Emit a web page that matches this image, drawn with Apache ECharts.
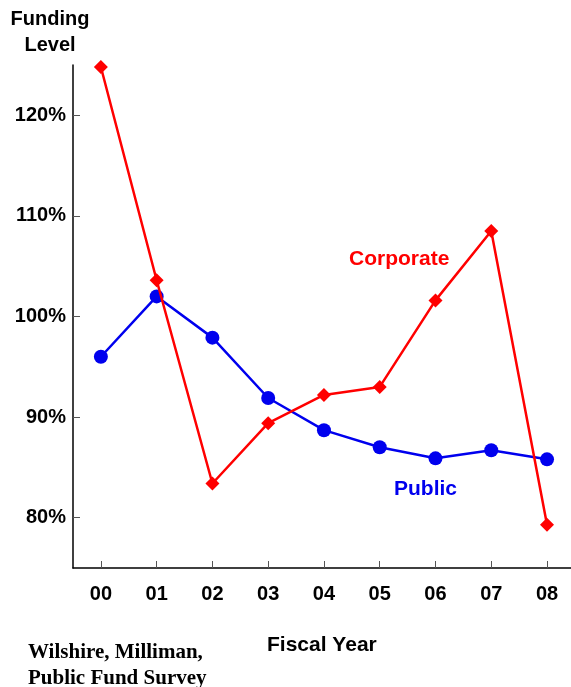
<!DOCTYPE html>
<html>
<head>
<meta charset="utf-8">
<script src="https://cdn.jsdelivr.net/npm/echarts@6/dist/echarts.min.js"></script>
<style>
  html, body { margin: 0; padding: 0; background: #fff; }
  #chart { width: 571px; height: 687px; }
</style>
</head>
<body>
<div id="chart"></div>
<script>
// fiscal years
const years = ['00', '01', '02', '03', '04', '05', '06', '07', '08'];
// funding level, percent
const corporate = [124.8, 103.6, 83.4, 89.4, 92.2, 93.0, 101.6, 108.5, 79.3];
const publicFunds = [96.0, 102.0, 97.9, 91.9, 88.7, 87.0, 85.9, 86.7, 85.8];
const yTicks = [80, 90, 100, 110, 120];

const font = 'Liberation Sans, Arial, sans-serif';

let myChart = echarts.init(document.getElementById('chart'));
myChart.setOption({
  animation: false,
  grid: { left: 73, right: 0, top: 65, bottom: 119 },
  xAxis: {
    type: 'value',
    min: -0.5,
    max: 8.43,
    splitLine: { show: false },
    axisLine: { show: true, onZero: false, lineStyle: { color: '#000', width: 1.5 } },
    axisTick: { show: true, inside: true, length: 7, customValues: years.map((y, i) => i), lineStyle: { color: '#555' } },
    axisLabel: {
      customValues: years.map((y, i) => i),
      formatter: v => years[Math.round(v)],
      color: '#000', fontWeight: 'bold', fontSize: 20, fontFamily: font, margin: 16
    }
  },
  yAxis: {
    type: 'value',
    min: 75,
    max: 125,
    splitLine: { show: false },
    axisLine: { show: true, onZero: false, lineStyle: { color: '#000', width: 1.5 } },
    axisTick: { show: true, inside: true, length: 7, customValues: yTicks, lineStyle: { color: '#555' } },
    axisLabel: {
      customValues: yTicks,
      formatter: '{value}%',
      color: '#000', fontWeight: 'bold', fontSize: 20, fontFamily: font, margin: 7
    }
  },
  series: [
    {
      name: 'Public',
      type: 'line',
      data: publicFunds.map((v, i) => [i, v]),
      symbol: 'circle',
      symbolSize: 14,
      itemStyle: { color: '#0000ee' },
      lineStyle: { color: '#0000ee', width: 2.5 },
      z: 2
    },
    {
      name: 'Corporate',
      type: 'line',
      data: corporate.map((v, i) => [i, v]),
      symbol: 'diamond',
      symbolSize: 14,
      itemStyle: { color: '#ff0000' },
      lineStyle: { color: '#ff0000', width: 2.5 },
      z: 3
    }
  ],
  graphic: [
    { type: 'text', x: 50, y: 6, style: { text: 'Funding\nLevel', font: 'bold 20px ' + font, fill: '#000', align: 'center', lineHeight: 26 } },
    { type: 'text', left: 349, top: 249, style: { text: 'Corporate', font: 'bold 21px ' + font, fill: '#ff0000' } },
    { type: 'text', left: 394, top: 479, style: { text: 'Public', font: 'bold 21px ' + font, fill: '#0000ee' } },
    { type: 'text', left: 267, top: 635, style: { text: 'Fiscal Year', font: 'bold 21px ' + font, fill: '#000' } },
    { type: 'text', left: 28, top: 640, style: { text: 'Wilshire, Milliman,\nPublic Fund Survey', font: 'bold 21px Liberation Serif, Times New Roman, serif', fill: '#000', lineHeight: 26 } }
  ]
});
</script>
</body>
</html>
